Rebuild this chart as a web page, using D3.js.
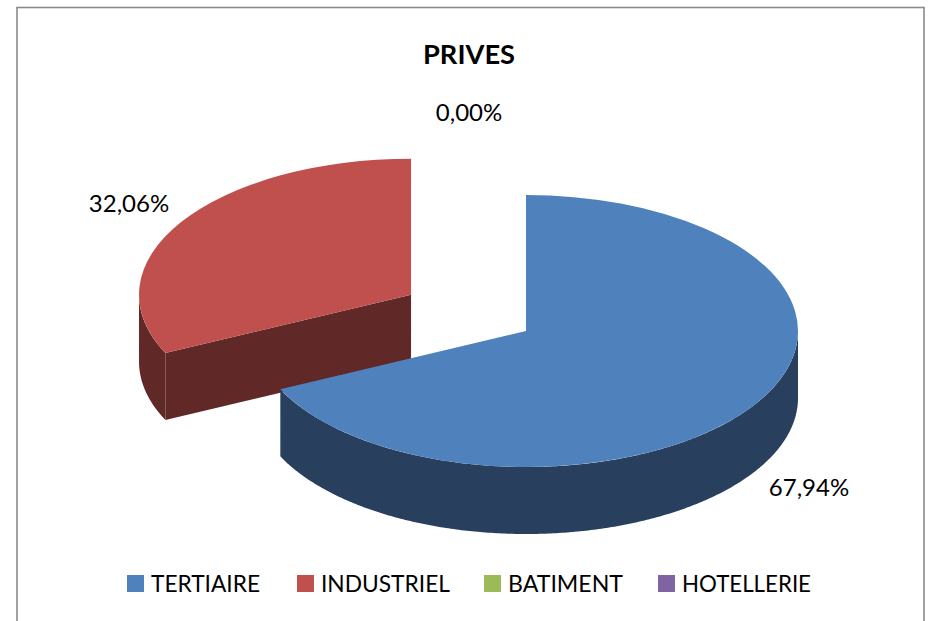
<!DOCTYPE html>
<html>
<head>
<meta charset="utf-8">
<script src="https://cdn.jsdelivr.net/npm/d3@7"></script>
<style>
  body { margin: 0; background: #fff; }
  text { font-family: Lato, "Open Sans", sans-serif; fill: #000; }
</style>
</head>
<body>
<div id="my_dataviz"></div>
<script>
// chart values
var categories = ["TERTIAIRE", "INDUSTRIEL", "BATIMENT", "HOTELLERIE"];
var values = [67.94, 32.06, 0, 0];
var explode = [0, 0.5, 0, 0];
var colors = ["#4f81bd", "#c0504d", "#9bbb59", "#8064a2"];
var sideColors = ["#283f5e", "#602827", "#4d5d2c", "#403251"];
var title = "PRIVES";

var width = 928, height = 621;

// pie geometry: flattened disc with a fixed wall height
var cx = 526, cy = 331, rx = 272, squash = 0.5, depth = 67;

// where the data labels sit, by category
var labelPos = [[809, 496], [129, 212], [469, 121]];

// legend item left edges and text widths
var legendX = [127, 297, 484, 658];
var legendTextW = [109, 129, 115, 129];

var svg = d3.select("#my_dataviz")
  .append("svg")
  .attr("width", width)
  .attr("height", height)
  .style("display", "block");

// chart frame, runs off the bottom of the picture
svg.append("rect")
  .attr("x", 17)
  .attr("y", 7.5)
  .attr("width", 907)
  .attr("height", 640)
  .attr("fill", "#fff")
  .attr("stroke", "#8a8a8a")
  .attr("stroke-width", 1.6);

svg.append("text")
  .attr("x", 469)
  .attr("y", 64)
  .attr("text-anchor", "middle")
  .attr("textLength", 92)
  .attr("lengthAdjust", "spacingAndGlyphs")
  .style("font-size", "26px")
  .style("font-weight", "700")
  .text(title);

var pie = d3.pie().sort(null).value(function(d) { return d; });
var slices = pie(values);

var arc = d3.arc().innerRadius(0).outerRadius(rx);

// point on the flattened rim for a pie angle (0 = up, clockwise)
function rimX(a) { return Math.sin(a) * rx; }
function rimY(a) { return -Math.cos(a) * rx * squash; }

var line = d3.line();

// outer wall between two angles, only the part facing the viewer
function outerWall(a0, a1) {
  var start = Math.max(a0, Math.PI / 2), end = Math.min(a1, Math.PI * 1.5);
  if (end <= start) return null;
  var angles = d3.range(start, end, 0.01).concat([end]);
  var top = angles.map(function(a) { return [rimX(a), rimY(a)]; });
  var bottom = angles.slice().reverse().map(function(a) { return [rimX(a), rimY(a) + depth]; });
  return line(top.concat(bottom)) + "Z";
}

// flat cut face from the centre to the rim
function cutWall(a) {
  return line([[0, 0], [rimX(a), rimY(a)], [rimX(a), rimY(a) + depth], [0, depth]]) + "Z";
}

// back slices first so the nearer one covers them
var order = [1, 0];
order.forEach(function(i) {
  var d = slices[i];
  if (d.value === 0) return;
  var mid = (d.startAngle + d.endAngle) / 2;
  var g = svg.append("g")
    .attr("transform", "translate(" + (cx + rimX(mid) * explode[i]) + "," + (cy + rimY(mid) * explode[i]) + ")");

  // cut face at the start of the red slice looks toward the viewer
  if (d.startAngle > Math.PI) {
    g.append("path")
      .attr("d", cutWall(d.startAngle))
      .attr("fill", sideColors[i]);
  }
  var wall = outerWall(d.startAngle, d.endAngle);
  if (wall) {
    g.append("path")
      .attr("d", wall)
      .attr("fill", sideColors[i]);
  }
  g.append("path")
    .attr("transform", "scale(1," + squash + ")")
    .attr("d", arc(d))
    .attr("fill", colors[i]);
});

// data labels, french decimal comma
svg.selectAll(".label")
  .data(labelPos)
  .enter()
  .append("text")
    .attr("class", "label")
    .attr("x", function(d) { return d[0]; })
    .attr("y", function(d) { return d[1]; })
    .attr("text-anchor", "middle")
    .style("font-size", "24px")
    .text(function(d, i) { return values[i].toFixed(2).replace(".", ",") + "%"; });

// legend
var legend = svg.selectAll(".legend")
  .data(categories)
  .enter()
  .append("g")
    .attr("class", "legend")
    .attr("transform", function(d, i) { return "translate(" + legendX[i] + ",575)"; });

legend.append("rect")
  .attr("width", 17)
  .attr("height", 17)
  .attr("fill", function(d, i) { return colors[i]; });

legend.append("text")
  .attr("x", 24)
  .attr("y", 17)
  .attr("textLength", function(d, i) { return legendTextW[i]; })
  .attr("lengthAdjust", "spacingAndGlyphs")
  .style("font-size", "24px")
  .text(function(d) { return d; });
</script>
</body>
</html>
